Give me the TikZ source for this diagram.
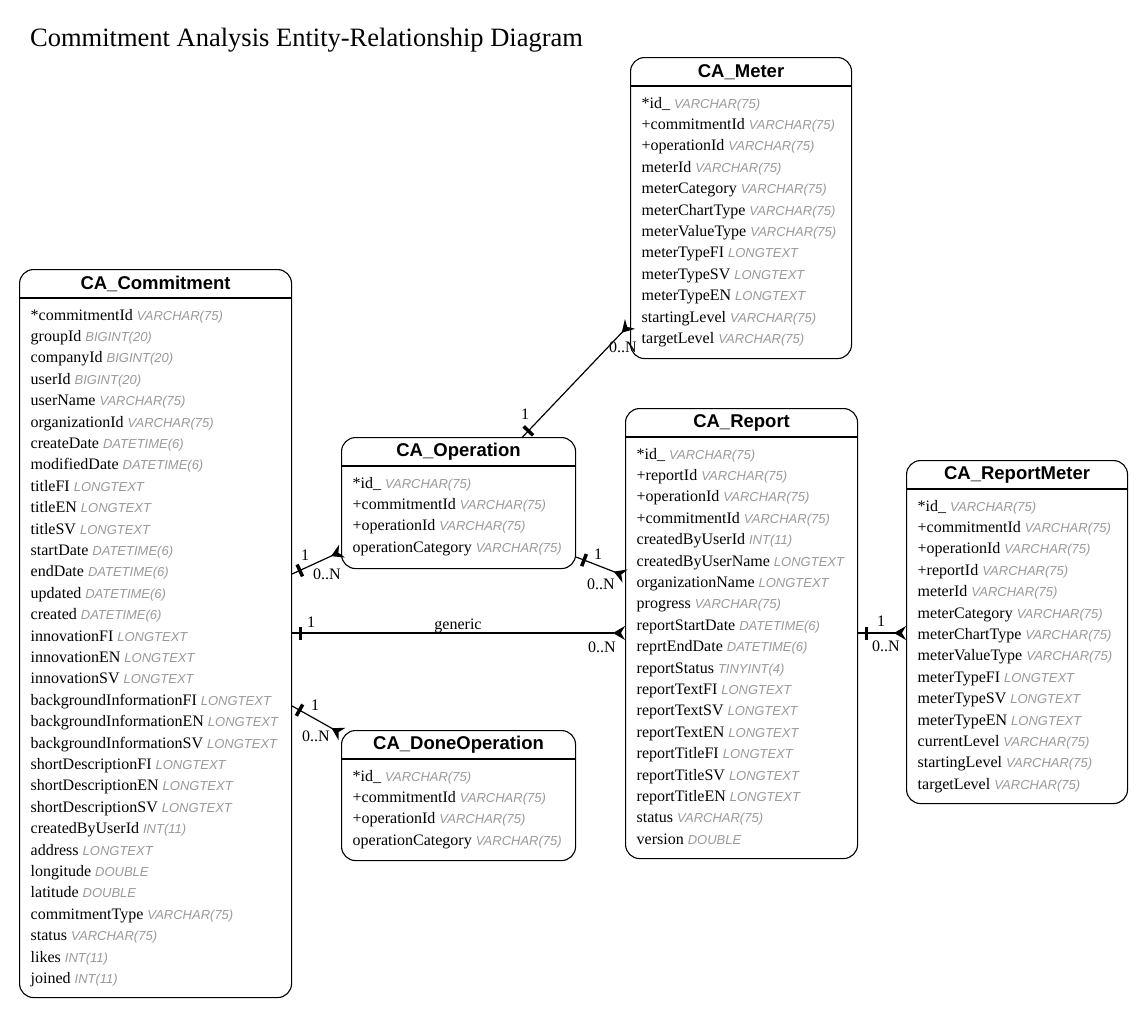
\documentclass[tikz,border=0pt]{standalone}
\usepackage{fontspec}
\setmainfont{Liberation Serif}
\newfontfamily\arialfont{Liberation Sans}
\usetikzlibrary{arrows.meta,decorations.markings}
\definecolor{typegray}{gray}{0.6}

\newcommand\ftype[1]{{\arialfont\itshape\fontsize{13}{15}\selectfont\color{typegray}#1}}

\tikzset{
  entity/.style={draw, rounded corners=14pt, line width=1.1pt},
  head/.style={font=\arialfont\bfseries\fontsize{18.5}{20}\selectfont, inner sep=0pt},
  field/.style={anchor=base west, inner sep=0pt, font=\fontsize{16}{18}\selectfont},
  rel/.style={line width=1.2pt},
  one/.style={postaction={decorate, decoration={markings,
      mark=at position 8.5pt with {\draw[line width=3.5pt, -] (0,-6.5pt) -- (0,6.5pt);}}}},
  many/.style={-{Stealth[reversed, length=12pt, width=14pt, inset=4pt]}},
  lbl/.style={anchor=base, inner sep=0pt, font=\fontsize{16}{18}\selectfont},
}

% name, left, top, width, height, title, fields
\newcommand\erbox[7]{%
  \node[entity, minimum width=#4pt, minimum height=#5pt, anchor=north west] (#1) at (#2,#3) {};
  \draw[line width=1.1pt] ([yshift=-29pt]#1.north west) -- ([yshift=-29pt]#1.north east);
  \node[head] (#1-title) at ([yshift=-15pt]#1.north) {#6};
  \foreach \f/\t [count=\i] in {#7}
    \node[field] (#1-\i) at ([xshift=11.5pt,yshift={-51pt-(\i-1)*21.4pt}]#1.north west) {\f\ \ftype{\t}};
}

\begin{document}
\begin{tikzpicture}[x=1pt, y=-1pt]
  \useasboundingbox (0,0) rectangle (1145,1017);

  \node[anchor=base west, inner sep=0pt, font=\fontsize{26.5}{30}\selectfont] (title) at (30,46)
    {Commitment Analysis Entity-Relationship Diagram};

  % tables
  \erbox{meter}{630}{57}{221}{301}{CA\_Meter}{%
    *id\_/VARCHAR(75), +commitmentId/VARCHAR(75), +operationId/VARCHAR(75),
    meterId/VARCHAR(75), meterCategory/VARCHAR(75), meterChartType/VARCHAR(75),
    meterValueType/VARCHAR(75), meterTypeFI/LONGTEXT, meterTypeSV/LONGTEXT,
    meterTypeEN/LONGTEXT, startingLevel/VARCHAR(75), targetLevel/VARCHAR(75)}

  \erbox{commitment}{19}{269}{272}{728}{CA\_Commitment}{%
    *commitmentId/VARCHAR(75), groupId/BIGINT(20), companyId/BIGINT(20), userId/BIGINT(20),
    userName/VARCHAR(75), organizationId/VARCHAR(75), createDate/DATETIME(6),
    modifiedDate/DATETIME(6), titleFI/LONGTEXT, titleEN/LONGTEXT, titleSV/LONGTEXT,
    startDate/DATETIME(6), endDate/DATETIME(6), updated/DATETIME(6), created/DATETIME(6),
    innovationFI/LONGTEXT, innovationEN/LONGTEXT, innovationSV/LONGTEXT,
    backgroundInformationFI/LONGTEXT, backgroundInformationEN/LONGTEXT,
    backgroundInformationSV/LONGTEXT, shortDescriptionFI/LONGTEXT,
    shortDescriptionEN/LONGTEXT, shortDescriptionSV/LONGTEXT, createdByUserId/INT(11),
    address/LONGTEXT, longitude/DOUBLE, latitude/DOUBLE, commitmentType/VARCHAR(75),
    status/VARCHAR(75), likes/INT(11), joined/INT(11)}

  \erbox{operation}{341}{437}{234}{131}{CA\_Operation}{%
    *id\_/VARCHAR(75), +commitmentId/VARCHAR(75), +operationId/VARCHAR(75),
    operationCategory/VARCHAR(75)}

  \erbox{doneop}{341}{730}{234}{130}{CA\_DoneOperation}{%
    *id\_/VARCHAR(75), +commitmentId/VARCHAR(75), +operationId/VARCHAR(75),
    operationCategory/VARCHAR(75)}

  \erbox{report}{625}{408}{232}{450}{CA\_Report}{%
    *id\_/VARCHAR(75), +reportId/VARCHAR(75), +operationId/VARCHAR(75),
    +commitmentId/VARCHAR(75), createdByUserId/INT(11), createdByUserName/LONGTEXT,
    organizationName/LONGTEXT, progress/VARCHAR(75), reportStartDate/DATETIME(6),
    reprtEndDate/DATETIME(6), reportStatus/TINYINT(4), reportTextFI/LONGTEXT,
    reportTextSV/LONGTEXT, reportTextEN/LONGTEXT, reportTitleFI/LONGTEXT,
    reportTitleSV/LONGTEXT, reportTitleEN/LONGTEXT, status/VARCHAR(75), version/DOUBLE}

  \erbox{reportmeter}{906}{460}{221}{343}{CA\_ReportMeter}{%
    *id\_/VARCHAR(75), +commitmentId/VARCHAR(75), +operationId/VARCHAR(75),
    +reportId/VARCHAR(75), meterId/VARCHAR(75), meterCategory/VARCHAR(75),
    meterChartType/VARCHAR(75), meterValueType/VARCHAR(75), meterTypeFI/LONGTEXT,
    meterTypeSV/LONGTEXT, meterTypeEN/LONGTEXT, currentLevel/VARCHAR(75),
    startingLevel/VARCHAR(75), targetLevel/VARCHAR(75)}

  % relations
  \draw[rel, one, many] ([xshift=64pt]operation.north) -- ([yshift=-267pt]meter.north west);
  \node[lbl] (om1) at (525,419) {1};
  \node[lbl] (omn) at (623,352) {0..N};

  \draw[rel, one, many] ([yshift=-305pt]commitment.north east) -- ([xshift=1pt,yshift=18pt]operation.south west);
  \node[lbl] (co1) at (305,560) {1};
  \node[lbl] (con) at (327,579) {0..N};

  \draw[rel, one, many] ([yshift=-120pt]operation.north east) -- ([yshift=-168pt]report.north west);
  \node[lbl] (or1) at (598,559) {1};
  \node[lbl] (orn) at (601,589) {0..N};

  \draw[rel, one, many] ([yshift=-364pt]commitment.north east) -- ([yshift=-225pt]report.north west);
  \node[lbl] (cr1) at (311,627) {1};
  \node[lbl] (crg) at (458,629) {generic};
  \node[lbl] (crn) at (602,652) {0..N};

  \draw[rel, one, many] ([yshift=-437pt]commitment.north east) -- ([xshift=1pt,yshift=-4pt]doneop.north west);
  \node[lbl] (cd1) at (315,710) {1};
  \node[lbl] (cdn) at (316,741) {0..N};

  \draw[rel, one, many] ([yshift=-225pt]report.north east) -- ([yshift=-173pt]reportmeter.north west);
  \node[lbl] (rr1) at (881,626) {1};
  \node[lbl] (rrn) at (886,651) {0..N};
\end{tikzpicture}
\end{document}
